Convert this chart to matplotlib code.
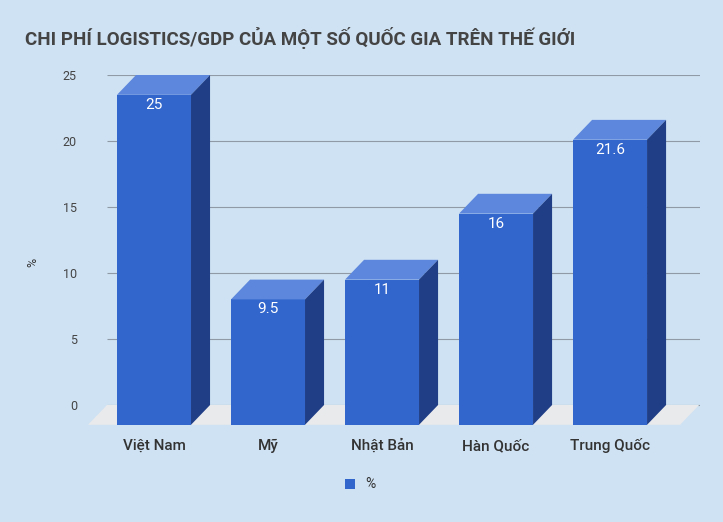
import matplotlib
matplotlib.use("Agg")
import matplotlib.pyplot as plt
from matplotlib.patches import Polygon

plt.rcParams["font.family"] = ["Roboto", "DejaVu Sans"]

countries = ["Việt Nam", "Mỹ", "Nhật Bản", "Hàn Quốc", "Trung Quốc"]
values = [25, 9.5, 11, 16, 21.6]
yticks = [0, 5, 10, 15, 20, 25]

BG = "#cfe2f3"
FRONT, TOP, SIDE = "#3366cc", "#5c87dc", "#1f3e86"
W, DX, DY = 0.649, 0.167, 1.5

fig = plt.figure(figsize=(7.23, 5.22), dpi=100, facecolor=BG)
# axes: x px 88..700, y px 75 (val 25) .. 432
ax = fig.add_axes([88 / 723, 1 - 432 / 522, 612 / 723, 357 / 522])
ax.set_facecolor(BG)
ax.set_xlim(-0.579, 4.789)
ax.set_ylim(25 - 357 / 13.2, 25)
for s in ax.spines.values():
    s.set_visible(False)

# floor
x0, x1 = -0.579, 4.789 - 0.175
ax.add_patch(Polygon([(x0, -DY), (x1, -DY), (x1 + DX, 0), (x0 + DX, 0)],
                     closed=True, fc="#e9eaec", ec="none", zorder=1))
ax.hlines(yticks, x0 + DX, 4.789, color="#8f9aa6", lw=0.8, zorder=0)

ax.set_yticks(yticks)
ax.set_yticklabels([str(t) for t in yticks], fontsize=9, color="#444444")
ax.tick_params(axis="y", length=0, pad=8)
ax.set_xticks([])

for i, v in enumerate(values):
    l, r = i - W / 2, i + W / 2
    ax.add_patch(Polygon([(l, -DY), (r, -DY), (r, v - DY), (l, v - DY)], fc=FRONT, ec="none", zorder=3))
    ax.add_patch(Polygon([(l, v - DY), (r, v - DY), (r + DX, v), (l + DX, v)], fc=TOP, ec="none", zorder=3))
    ax.add_patch(Polygon([(r, -DY), (r + DX, 0), (r + DX, v), (r, v - DY)], fc=SIDE, ec="none", zorder=3))
    ax.text(i, v - DY - 0.75, f"{v:g}", ha="center", va="center", color="white", fontsize=11, zorder=4)
    ax.text(i, -DY - 1.6, countries[i], ha="center", va="center", color="#333333",
            fontsize=11, fontweight="medium")

fig.text(25 / 723, 1 - 38 / 522, "CHI PHÍ LOGISTICS/GDP CỦA MỘT SỐ QUỐC GIA TRÊN THẾ GIỚI",
         fontsize=13.5, fontweight="bold", color="#444444", va="center")
fig.text(33 / 723, 1 - 262 / 522, "%", fontsize=9, color="#333333", rotation=90, va="center", ha="center")
fig.patches.append(Polygon([(345 / 723, 1 - 479 / 522), (355 / 723, 1 - 479 / 522),
                            (355 / 723, 1 - 489 / 522), (345 / 723, 1 - 489 / 522)],
                           closed=True, fc=FRONT, transform=fig.transFigure))
fig.text(365 / 723, 1 - 484 / 522, "%", fontsize=10, color="#333333", va="center")

fig.savefig("out.png", dpi=100, facecolor=BG)
